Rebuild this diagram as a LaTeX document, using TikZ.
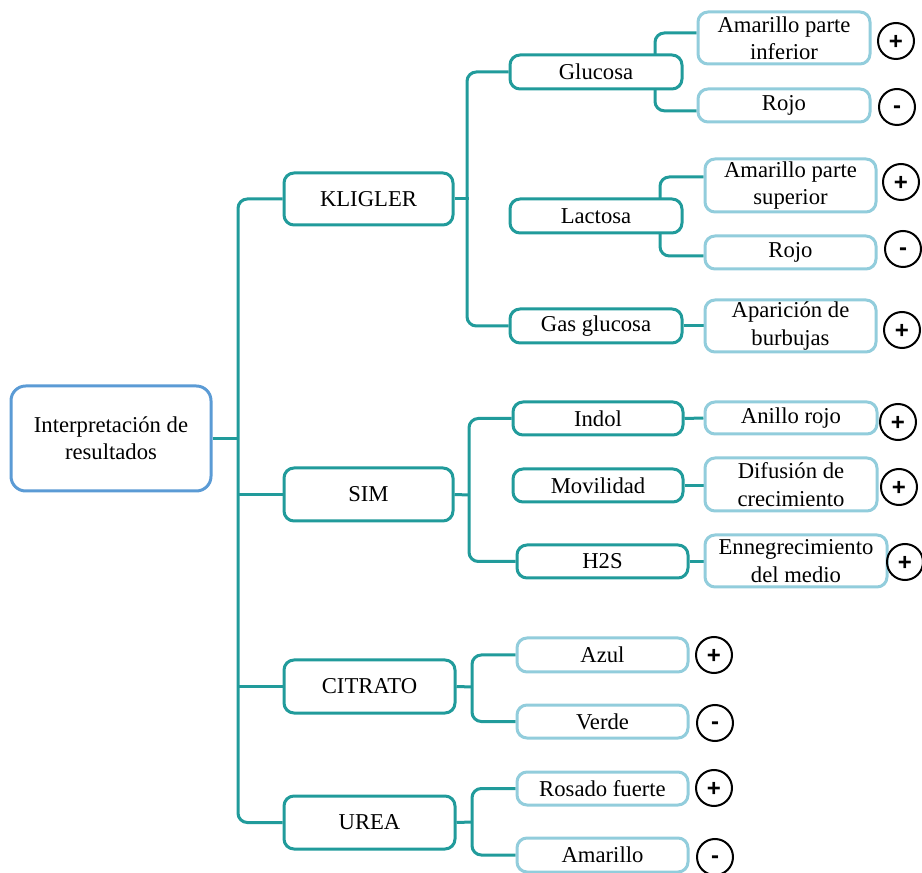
\documentclass[tikz,border=0pt]{standalone}
\usepackage{fontspec}
\setmainfont{Liberation Serif}
\newfontfamily\signfont{Liberation Sans}
\definecolor{branch}{RGB}{33,155,155}
\definecolor{leafblue}{RGB}{146,205,220}
\definecolor{rootblue}{RGB}{91,155,213}
\pgfdeclarelayer{bg}
\pgfsetlayers{bg,main}
\tikzset{
  sz/.style 2 args={minimum width=#1*0.75pt, minimum height=#2*0.75pt},
  base/.style={rounded corners=7.5pt, line width=2.25pt, fill=white, align=center,
    inner sep=0pt, font=\fontsize{17}{20.5}\selectfont},
  rootbox/.style={base, draw=rootblue, rounded corners=11pt},
  testbox/.style={base, draw=branch},
  leaf/.style={base, draw=leafblue},
  conn/.style={draw=branch, line width=2.25pt, rounded corners=7pt},
  sign/.style={circle, draw=black, line width=1.5pt, minimum size=27pt, inner sep=0pt,
    font=\signfont\bfseries\fontsize{18}{18}\selectfont},
  plussign/.style={sign, text height=12.8pt, text depth=0pt},
  minussign/.style={sign, text height=9.8pt, text depth=0pt}
}
\begin{document}
\begin{tikzpicture}[x=0.75pt, y=-0.75pt]
\useasboundingbox (0,0) rectangle (922,873);

% root
\node[rootbox, sz={200}{105}] (root) at (111,438.5) {Interpretación de\\resultados};

% tests
\node[testbox, sz={169}{52}] (kligler) at (368.5,199) {KLIGLER};
\node[testbox, sz={169}{53}] (sim) at (368.5,494.5) {SIM};
\node[testbox, sz={171}{53}] (citrato) at (369.5,686.5) {CITRATO};
\node[testbox, sz={171}{53}] (urea) at (369.5,822.5) {UREA};

% KLIGLER
\node[testbox, sz={172}{34}] (glucosa) at (596,72) {Glucosa};
\node[testbox, sz={172}{34}] (lactosa) at (596,216) {Lactosa};
\node[testbox, sz={172}{34}] (gas) at (596,326) {Gas glucosa};
\node[leaf, sz={172}{52}] (a1) at (784,38) {Amarillo parte\\inferior};
\node[leaf, sz={172}{33}] (r1) at (784,105.5) {Rojo};
\node[leaf, sz={171}{53}] (a2) at (790.5,185.5) {Amarillo parte\\superior};
\node[leaf, sz={171}{33}] (r2) at (790.5,252.5) {Rojo};
\node[leaf, sz={171}{52}] (apar) at (790.5,326) {Aparición de\\burbujas};

% SIM
\node[testbox, sz={170}{33}] (indol) at (598,418.5) {Indol};
\node[testbox, sz={170}{33}] (movil) at (598,485.5) {Movilidad};
\node[testbox, sz={171}{33}] (h2s) at (602.5,561.5) {H2S};
\node[leaf, sz={172}{32}] (anillo) at (791,418) {Anillo rojo};
\node[leaf, sz={172}{53}] (difus) at (791,484.5) {Difusión de\\crecimiento};
\node[leaf, sz={182}{52}] (enne) at (796,561) {Ennegrecimiento\\del medio};

% CITRATO
\node[leaf, sz={171}{34}] (azul) at (602.5,655) {Azul};
\node[leaf, sz={171}{33}] (verde) at (602.5,721.5) {Verde};

% UREA
\node[leaf, sz={171}{33}] (rosado) at (602.5,788.5) {Rosado fuerte};
\node[leaf, sz={171}{34}] (amar) at (602.5,855) {Amarillo};

% result signs
\node[plussign] (s1) at (896,41) {+};
\node[minussign] (s2) at (897,107) {-};
\node[plussign] (s3) at (901,182) {+};
\node[minussign] (s4) at (903,249) {-};
\node[plussign] (s5) at (902,330) {+};
\node[plussign] (s6) at (898,422) {+};
\node[plussign] (s7) at (899,487) {+};
\node[plussign] (s8) at (905,562) {+};
\node[plussign] (s9) at (714,655) {+};
\node[minussign] (s10) at (715,723) {-};
\node[plussign] (s11) at (714,788) {+};
\node[minussign] (s12) at (715,857) {-};

% branch points
\coordinate (tr) at (238,500);
\coordinate (kv) at (467,199);
\coordinate (gv) at (655,72);
\coordinate (lv) at (660,216);
\coordinate (sv) at (469,495);
\coordinate (cv) at (472,687);
\coordinate (uv) at (472,822);

\begin{pgfonlayer}{bg}
  % trunk
  \draw[conn] (kligler.west) -| (tr) |- (urea.west);
  \draw[conn] (root.east) -- (root.east -| tr);
  \draw[conn] (tr |- sim.west) -- (sim.west);
  \draw[conn] (tr |- citrato.west) -- (citrato.west);
  % KLIGLER
  \draw[conn] (glucosa.west) -| (kv) |- (gas.west);
  \draw[conn] (kligler.east) -- ([xshift=1.5pt]kv);
  \draw[conn] ([yshift=3.75pt]a1.west) -| (gv) |- ([yshift=-4pt]r1.west);
  \draw[conn] ([yshift=6.4pt]a2.west) -| (lv) |- ([yshift=-2.6pt]r2.west);
  \draw[conn] (gas.east) -- (apar.west);
  % SIM
  \draw[conn] (indol.west) -| (sv) |- (h2s.west);
  \draw[conn] (sim.east) -- (sv);
  \draw[conn] (indol.east) -- (anillo.west);
  \draw[conn] (movil.east) -- (movil.east -| difus.west);
  \draw[conn] (h2s.east) -- (h2s.east -| enne.west);
  % CITRATO
  \draw[conn] (azul.west) -| (cv) |- (verde.west);
  \draw[conn] (citrato.east) -- (cv);
  % UREA
  \draw[conn] (rosado.west) -| (uv) |- (amar.west);
  \draw[conn] (urea.east) -- (uv);
\end{pgfonlayer}
\end{tikzpicture}
\end{document}
